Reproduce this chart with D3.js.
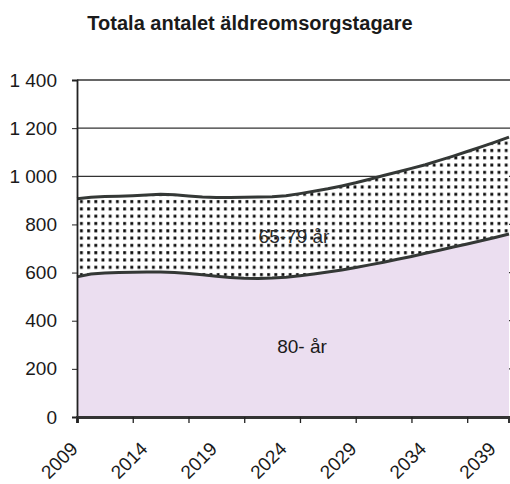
<!DOCTYPE html>
<html>
<head>
<meta charset="utf-8">
<script src="https://cdn.jsdelivr.net/npm/d3@7"></script>
<style>
  body { margin: 0; background: #fff; }
  svg { display: block; font-family: "Liberation Sans", Arial, sans-serif; }
</style>
</head>
<body>
<svg id="chart" width="510" height="484"></svg>
<script>
var years = d3.range(2009, 2041);
// 80- år (lower band)
var old80 = [582, 594, 598, 600, 601, 602, 602, 600, 596, 591, 585, 580, 576, 575, 577, 581,
             587, 594, 602, 611, 621, 632, 643, 655, 667, 680, 693, 706, 719, 732, 746, 760];
// 65-79 år (stacked on top)
var age6579 = [325, 319, 318, 317, 318, 320, 323, 323, 322, 323, 327, 332, 337, 339, 338, 338,
               341, 344, 346, 349, 352, 356, 360, 363, 366, 368, 373, 378, 384, 390, 396, 403];
var seriesKeys = ["80- år", "65-79 år"];
var yTicks = [0, 200, 400, 600, 800, 1000, 1200, 1400];
var xLabelYears = [2009, 2014, 2019, 2024, 2029, 2034, 2039];
var xTickYears = [2009, 2013, 2017, 2021, 2025, 2029, 2033, 2037];

(function() {
  var svg = d3.select("#chart"),
      plotLeft = 77, plotRight = 509, plotTop = 80, plotBottom = 417;

  var x = d3.scaleLinear().domain([2009, 2040]).range([plotLeft, plotRight]);
  var y = d3.scaleLinear().domain([0, 1400]).range([plotBottom, plotTop]);
  var fmt = function(d) { return d3.format(",")(d).replace(",", " "); };

  var table = years.map(function(yr, i) {
    return { year: yr, "80- år": old80[i], "65-79 år": age6579[i] };
  });
  var stack = d3.stack().keys(seriesKeys)(table);

  // dot pattern for 65-79
  var defs = svg.append("defs");
  var pat = defs.append("pattern")
      .attr("id", "dots")
      .attr("patternUnits", "userSpaceOnUse")
      .attr("width", 7.2).attr("height", 7.3)
      .attr("x", plotLeft + 1).attr("y", 1);
  pat.append("rect").attr("width", 7.2).attr("height", 7.3).attr("fill", "#fff");
  pat.append("rect").attr("x", 2).attr("y", 2).attr("width", 2.8).attr("height", 3).attr("fill", "#0a0a0a");

  // title
  svg.append("text")
      .attr("x", 250).attr("y", 30)
      .attr("text-anchor", "middle")
      .style("font-size", "20px").style("font-weight", "bold").attr("fill", "#1a1a1a")
      .text("Totala antalet äldreomsorgstagare");

  // gridlines
  svg.append("g").selectAll("line")
      .data(yTicks.filter(function(d) { return d > 0; }))
    .enter().append("line")
      .attr("x1", plotLeft).attr("x2", 512)
      .attr("y1", function(d) { return y(d); }).attr("y2", function(d) { return y(d); })
      .attr("stroke", "#333").attr("stroke-width", 1.3);

  var area = d3.area()
      .x(function(d) { return x(d.data.year); })
      .y0(function(d) { return y(d[0]); })
      .y1(function(d) { return y(d[1]); });
  var topLine = d3.line()
      .x(function(d) { return x(d.data.year); })
      .y(function(d) { return y(d[1]); });

  var fills = ["#ebdef0", "url(#dots)"];
  svg.append("g").selectAll("path")
      .data(stack)
    .enter().append("path")
      .attr("d", area)
      .attr("fill", function(d, i) { return fills[i]; });

  svg.append("g").selectAll("path")
      .data(stack)
    .enter().append("path")
      .attr("d", topLine)
      .attr("fill", "none")
      .attr("stroke", "#343836").attr("stroke-width", 3);

  // y axis
  var yAxis = svg.append("g")
      .attr("transform", "translate(" + plotLeft + ",0)")
      .call(d3.axisLeft(y).tickValues(yTicks).tickSize(5).tickPadding(15).tickFormat(fmt));
  yAxis.select(".domain").attr("stroke", "#222").attr("stroke-width", 1.8);
  yAxis.selectAll(".tick line").attr("stroke", "#222");
  yAxis.selectAll("text").style("font-size", "19px").attr("fill", "#1a1a1a");

  // x axis
  var xAxis = svg.append("g")
      .attr("transform", "translate(0," + plotBottom + ")")
      .call(d3.axisBottom(x).tickValues(xTickYears).tickSize(6).tickFormat(""));
  xAxis.select(".domain").attr("stroke", "#333").attr("stroke-width", 3);
  xAxis.selectAll(".tick line").attr("stroke", "#222").attr("stroke-width", 1.3);

  svg.append("g").selectAll("text")
      .data(xLabelYears)
    .enter().append("text")
      .attr("transform", function(d) { return "translate(" + (x(d) + 2) + ",450) rotate(-45)"; })
      .attr("text-anchor", "end")
      .style("font-size", "19px").attr("fill", "#1a1a1a")
      .text(function(d) { return d; });

  // series labels
  svg.append("text")
      .attr("x", 294).attr("y", 243).attr("text-anchor", "middle")
      .style("font-size", "19px").attr("fill", "#2a2a2a")
      .text("65-79 år");
  svg.append("text")
      .attr("x", 302).attr("y", 353).attr("text-anchor", "middle")
      .style("font-size", "19px").attr("fill", "#1a1a1a")
      .text("80- år");
})();
</script>
</body>
</html>
